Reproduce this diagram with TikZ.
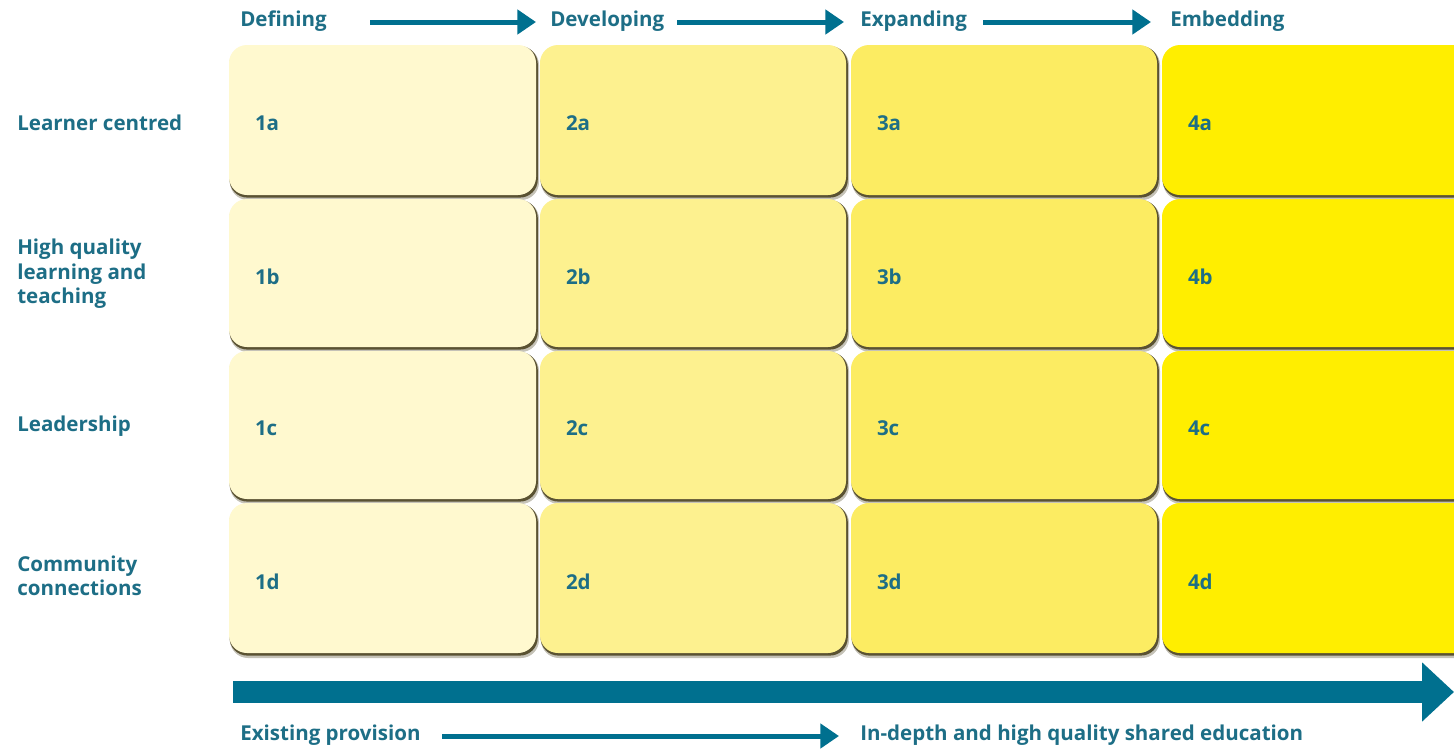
\documentclass[tikz,border=0pt]{standalone}
\usepackage{fontspec}
\setmainfont{Open Sans}
\usetikzlibrary{arrows.meta}
\definecolor{txtc}{HTML}{1D6E86}
\definecolor{arrc}{HTML}{00708F}
\definecolor{cA}{HTML}{FFF9CF}
\definecolor{cB}{HTML}{FDF18F}
\definecolor{cC}{HTML}{FCEC62}
\definecolor{cD}{HTML}{FFEE00}
\definecolor{shc}{HTML}{5A5232}
\tikzset{
  lab/.style={text=txtc,font=\fontsize{15.4}{18.4}\selectfont\bfseries,inner sep=0pt,anchor=west},
  rowlab/.style={lab,align=left},
  cellbox/.style={rounded corners=13.5pt,inner sep=0pt,draw=none},
  smallarrow/.style={draw=arrc,line width=3.75pt,-{Triangle[length=14pt,width=18pt]}},
  bigarrow/.style={draw=arrc,line width=16.5pt,-{Triangle[length=24pt,width=43pt]}},
}
\newcommand\mycell[7]{%
  \fill[shc,opacity=0.35,rounded corners=13.5pt] (#2+1,#3+2) rectangle (#4+3,#5+5);
  \fill[shc,rounded corners=13.5pt] (#2+0.5,#3+1) rectangle (#4+1.8,#5+2.6);
  \node[cellbox,fill=#6,minimum width={(#4-#2)*0.75pt},minimum height={(#5-#3)*0.75pt}] (#1) at ({(#2+#4)/2},{(#3+#5)/2}) {};
  \node[lab] (#1l) at ([xshift=19.5pt,yshift=-2.5pt]#1.west) {#7};
}
\begin{document}
\begin{tikzpicture}[x=0.75pt,y=-0.75pt]
\useasboundingbox (0,0) rectangle (1454,751);
\clip (0,0) rectangle (1454,751);
\fill[white] (0,0) rectangle (1454,751);
% cells
\foreach \r/\ya/\yb in {a/45/195,b/199/347,c/351/499,d/503/653}{
  \mycell{c1\r}{229}{\ya}{536}{\yb}{cA}{1\r}
  \mycell{c2\r}{540}{\ya}{846}{\yb}{cB}{2\r}
  \mycell{c3\r}{851}{\ya}{1157}{\yb}{cC}{3\r}
  \mycell{c4\r}{1162}{\ya}{1480}{\yb}{cD}{4\r}
}
% row labels
\node[rowlab] (r1) at (17,123) {Learner centred};
\node[rowlab] (r2) at (17,274) {High quality\\learning and\\teaching};
\node[rowlab] (r3) at (17,426) {Leadership};
\node[rowlab] (r4) at (17,576) {Community\\connections};
% top labels
\node[lab] (h1) at (240,21) {Defining};
\node[lab] (h2) at (550,21) {Developing};
\node[lab] (h3) at (860,21) {Expanding};
\node[lab] (h4) at (1170,21) {Embedding};
\coordinate (a1s) at (370,22); \coordinate (a1e) at (536,22);
\coordinate (a2s) at (677,22); \coordinate (a2e) at (844,22);
\coordinate (a3s) at (983,22); \coordinate (a3e) at (1151,22);
\draw[smallarrow] (a1s) -- (a1e);
\draw[smallarrow] (a2s) -- (a2e);
\draw[smallarrow] (a3s) -- (a3e);
% big arrow
\coordinate (bs) at (233,692); \coordinate (be) at (1454,692);
\draw[bigarrow] (bs) -- (be);
% bottom labels
\node[lab] (b1) at (240,735) {Existing provision};
\node[lab] (b2) at (860,735) {In-depth and high quality shared education};
\coordinate (cs) at (442,736); \coordinate (ce) at (839,736);
\draw[smallarrow] (cs) -- (ce);
\end{tikzpicture}
\end{document}
